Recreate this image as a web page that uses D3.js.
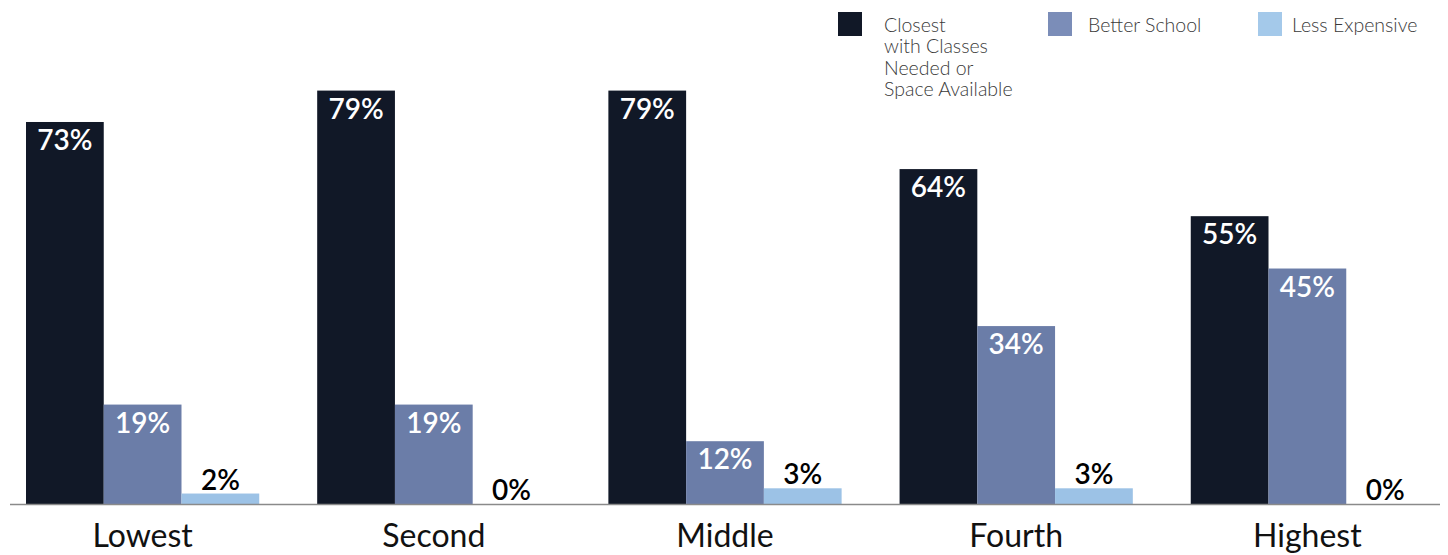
<!DOCTYPE html>
<html><head><meta charset="utf-8">
<script src="https://cdn.jsdelivr.net/npm/d3@7"></script>
<style>html,body{margin:0;padding:0;background:#fff;}svg{display:block;font-family:Lato,"Open Sans",sans-serif;}</style>
</head><body>
<svg id="c" width="1448" height="555"></svg>
<script>
const categories = ["Lowest","Second","Middle","Fourth","Highest"];
const seriesNames = ["Closest\nwith Classes\nNeeded or\nSpace Available","Better School","Less Expensive"];
const closest = [73,79,79,64,55];
const better = [19,19,12,34,45];
const lessExp = [2,0,3,3,0];
const colors = ["#111827","#6b7da8","#9cc2e6"];
const legendColors = ["#111827","#7b8db8","#a4c9ea"];

const svg = d3.select("#c");
const baseY = 504;
const x0 = d3.scaleBand().domain(categories).range([26,1424]).paddingInner(0.199).paddingOuter(0);
const x1 = d3.scaleBand().domain([0,1,2]).range([0,x0.bandwidth()]).padding(0);
const y = d3.scaleLinear().domain([0,100]).range([baseY,-19.3]);

const series = [closest,better,lessExp];
const data = [];
categories.forEach((c,i)=>series.forEach((s,j)=>data.push({c,j,v:s[i]})));

const g = svg.append("g");
g.selectAll("rect").data(data).join("rect")
  .attr("x",d=>x0(d.c)+x1(d.j))
  .attr("y",d=>y(d.v))
  .attr("width",x1.bandwidth())
  .attr("height",d=>baseY-y(d.v))
  .attr("fill",d=>colors[d.j]);

g.selectAll("text.v").data(data).join("text")
  .attr("class","v")
  .attr("x",d=>x0(d.c)+x1(d.j)+x1.bandwidth()/2)
  .attr("y",d=>d.v<6 ? y(d.v)-4 : y(d.v)+28)
  .attr("text-anchor","middle")
  .attr("font-size",28)
  .attr("font-weight",600)
  .attr("fill",d=>d.v<6?"#000":"#fff")
  .text(d=>d.v+"%");

svg.append("line").attr("x1",10).attr("x2",1440).attr("y1",baseY+0.5).attr("y2",baseY+0.5)
  .attr("stroke","#8a8a8a").attr("stroke-width",1.5);

const xAxis = d3.axisBottom(x0).tickSize(0).tickPadding(0);
const ax = svg.append("g").attr("transform",`translate(0,${baseY})`).call(xAxis);
ax.select(".domain").remove();
ax.selectAll("text").attr("font-size",32).attr("fill","#111").attr("dy",null).attr("y",43)
  .attr("font-family","Lato,'Open Sans',sans-serif");

const legX = [838,1048,1258];
const legTX = [884,1088,1292];
const leg = svg.append("g");
seriesNames.forEach((n,i)=>{
  leg.append("rect").attr("x",legX[i]).attr("y",12).attr("width",24).attr("height",24).attr("fill",legendColors[i]);
  const t = leg.append("text").attr("x",legTX[i]).attr("y",32)
    .attr("font-size",19.5).attr("font-weight",300).attr("fill","#3a3a3a");
  n.split("\n").forEach((line,k)=>t.append("tspan").attr("x",legTX[i]).attr("dy",k?21.3:0).text(line));
});
</script>
</body></html>
